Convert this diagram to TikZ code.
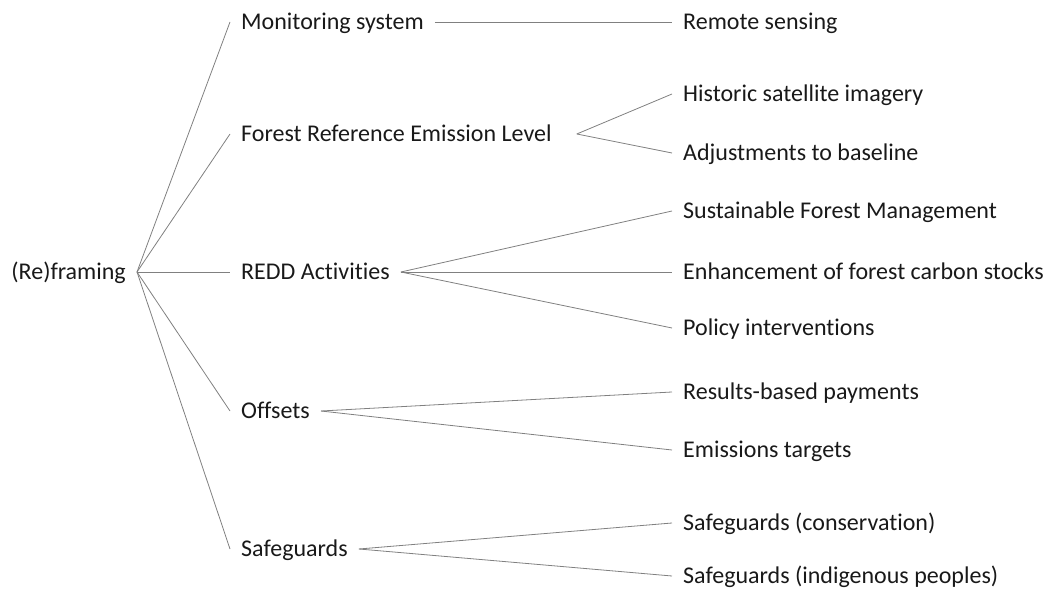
\documentclass[tikz,border=0pt]{standalone}
\usepackage{fontspec}
\setmainfont{Carlito}[Ligatures=NoCommon]
\begin{document}
\begin{tikzpicture}[x=1pt,y=-1pt,
  lbl/.style={inner xsep=11pt,inner ysep=0pt,text height=17pt,text depth=1.6pt,
    font=\fontsize{24}{28}\selectfont,text=black!90},
  con/.style={draw=black!50,line width=0.8pt}]
\useasboundingbox (0,0) rectangle (1052,593);
% root
\node[lbl,anchor=east] (root) at (137,272) {(Re)framing};
% level 1
\node[lbl,anchor=west] (mon) at (230,22) {Monitoring system};
\node[lbl,anchor=west] (frel) at (230,134) {Forest Reference Emission Level};
\node[lbl,anchor=west] (redd) at (230,272) {REDD Activities};
\node[lbl,anchor=west] (off) at (230,411) {Offsets};
\node[lbl,anchor=west] (safe) at (230,549) {Safeguards};
% level 2
\node[lbl,anchor=west] (rs) at (672,22) {Remote sensing};
\node[lbl,anchor=west] (hist) at (672,94) {Historic satellite imagery};
\node[lbl,anchor=west] (adj) at (672,153) {Adjustments to baseline};
\node[lbl,anchor=west] (sfm) at (672,211) {Sustainable Forest Management};
\node[lbl,anchor=west] (enh) at (672,272) {Enhancement of forest carbon stocks};
\node[lbl,anchor=west] (pol) at (672,328) {Policy interventions};
\node[lbl,anchor=west] (rbp) at (672,392) {Results-based payments};
\node[lbl,anchor=west] (emt) at (672,450) {Emissions targets};
\node[lbl,anchor=west] (scon) at (672,523) {Safeguards (conservation)};
\node[lbl,anchor=west] (sind) at (672,576) {Safeguards (indigenous peoples)};
\coordinate (frelb) at ([xshift=14pt]frel.east);
% connectors
\foreach \t in {mon,frel,redd,off,safe} \draw[con] (root.east) -- (\t.west);
\draw[con] (mon.east) -- (rs.west);
\draw[con] (frelb) -- (hist.west);
\draw[con] (frelb) -- (adj.west);
\foreach \t in {sfm,enh,pol} \draw[con] (redd.east) -- (\t.west);
\foreach \t in {rbp,emt} \draw[con] (off.east) -- (\t.west);
\foreach \t in {scon,sind} \draw[con] (safe.east) -- (\t.west);
\end{tikzpicture}
\end{document}
